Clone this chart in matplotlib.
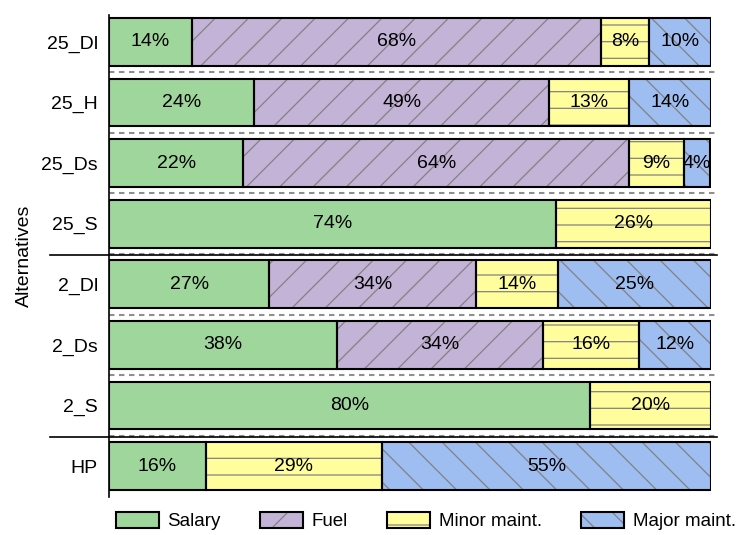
import matplotlib
matplotlib.use("Agg")
import matplotlib.pyplot as plt
from matplotlib.patches import Patch
from matplotlib.legend_handler import HandlerTuple
import numpy as np

plt.rcParams['font.family'] = ['Liberation Sans', 'DejaVu Sans']
plt.rcParams['hatch.linewidth'] = 0.9

alternatives = ["25_Dl", "25_H", "25_Ds", "25_S", "2_Dl", "2_Ds", "2_S", "HP"]
salary = [13.8, 24.1, 22.3, 74.3, 26.6, 37.9, 79.9, 16.1]
fuel = [67.9, 49.0, 64.1, 0.0, 34.4, 34.2, 0.0, 0.0]
minor = [8.0, 13.3, 9.1, 25.7, 13.6, 15.9, 20.1, 29.2]
major = [10.3, 13.6, 4.4, 0.0, 25.4, 12.0, 0.0, 54.7]

series_names = ["Salary", "Fuel", "Minor maint.", "Major maint."]
series_values = [salary, fuel, minor, major]
colors = ["#9fd69c", "#c3b3d7", "#fffd9c", "#9ebdf0"]
hatches = ["", "/", "-", "\\"]
group_breaks = [3, 6]  # separator after these indices (solid lines)

fig = plt.figure(figsize=(7.39, 5.35), dpi=100)
ax = fig.add_axes([0.1475, 0.071, 0.8146, 0.901])

n = len(alternatives)
ypos = np.arange(n)[::-1].astype(float)
left = np.zeros(n)
handles = []
for name, vals, col, hat in zip(series_names, series_values, colors, hatches):
    vals = np.array(vals, dtype=float)
    mask = vals > 0
    c1 = ax.barh(ypos[mask], vals[mask], left=left[mask], height=0.79,
                 color=col, edgecolor="#828282", linewidth=0, hatch=hat, zorder=2)
    ax.barh(ypos[mask], vals[mask], left=left[mask], height=0.79,
            fill=False, edgecolor="black", linewidth=1.5, zorder=3)
    ax.bar_label(c1, labels=[f"{v:.0f}%" for v in vals[mask]],
                 label_type="center", fontsize=14, zorder=4)
    left = left + vals
    handles.append((Patch(facecolor=col, edgecolor="#828282", hatch=hat, linewidth=0),
                    Patch(fill=False, edgecolor="black", linewidth=1.5)))

# separators
for i in range(n - 1):
    ymid = (ypos[i] + ypos[i + 1]) / 2
    ax.plot([0, 101], [ymid, ymid], color="#8f8f8f", lw=1.5,
            linestyle=(0, (2.6, 2.2)), clip_on=False, zorder=1)
for i in group_breaks:
    ymid = (ypos[i] + ypos[i + 1]) / 2 - 0.02
    ax.plot([-0.098, 1.01], [ymid, ymid], color="black", lw=1.2,
            transform=ax.get_yaxis_transform(), clip_on=False, zorder=1)

ax.set_xlim(0, 100)
ax.set_ylim(-0.512, 7.446)
ax.set_yticks(ypos)
ax.set_yticklabels(alternatives, fontsize=14)
ax.set_xticks([])
ax.tick_params(axis="y", length=0, pad=8)
for s in ["top", "right", "bottom"]:
    ax.spines[s].set_visible(False)
ax.spines["left"].set_linewidth(1.2)
ax.set_ylabel("Alternatives", fontsize=14, labelpad=6)

fig.legend(handles, series_names, loc="center", bbox_to_anchor=(0.576, 0.026),
           ncol=4, frameon=False, fontsize=13.5, handlelength=2.3,
           handleheight=0.9, handletextpad=0.45, columnspacing=2.1,
           borderaxespad=0, handler_map={tuple: HandlerTuple(ndivide=1)})

fig.savefig("out.png", dpi=100)
